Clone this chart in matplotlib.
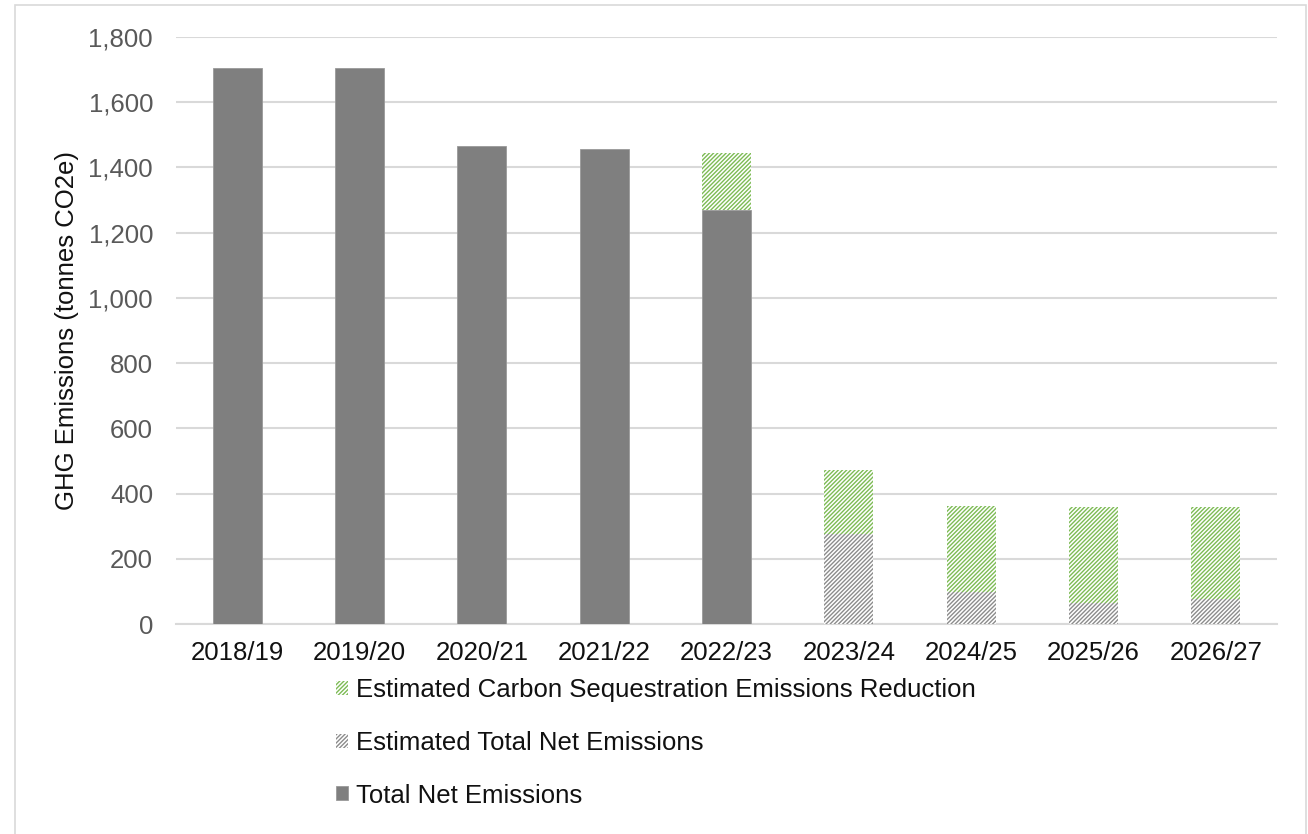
import matplotlib
matplotlib.use("Agg")
import matplotlib.pyplot as plt
from matplotlib.patches import Rectangle
import numpy as np

plt.rcParams['font.family'] = ['Liberation Sans', 'DejaVu Sans']
plt.rcParams['hatch.linewidth'] = 1.0

years = ["2018/19", "2019/20", "2020/21", "2021/22", "2022/23",
         "2023/24", "2024/25", "2025/26", "2026/27"]
total_net = [1705, 1705, 1465, 1457, 1270, 0, 0, 0, 0]
estimated_net = [0, 0, 0, 0, 0, 275, 98, 64, 77]
sequestration = [0, 0, 0, 0, 175, 197, 265, 295, 282]

yticks = [0, 200, 400, 600, 800, 1000, 1200, 1400, 1600, 1800]

GRAY = "#7f7f7f"
GREEN = "#7dbb55"
GRID = "#d9d9d9"
FS = 18.5

fig = plt.figure(figsize=(13.08, 8.34), dpi=100)
ax = fig.add_axes([176 / 1308, 1 - 624 / 834, (1277 - 176) / 1308, (624 - 37) / 834])

x = np.arange(len(years))
w = 0.40
base = np.array(total_net) + np.array(estimated_net)

b_total = ax.bar(x, total_net, w, color=GRAY, edgecolor="#9a9a9a", linewidth=0.6, zorder=3)
b_est = ax.bar(x, estimated_net, w, bottom=total_net, facecolor="white",
               edgecolor="#8c8c8c", hatch="////////", linewidth=0, zorder=3)
b_seq = ax.bar(x, sequestration, w, bottom=base, facecolor="white",
               edgecolor=GREEN, hatch="////////", linewidth=0, zorder=3)

ax.set_xlim(-0.5, len(years) - 0.5)
ax.set_ylim(0, 1800)
ax.set_yticks(yticks)
ax.set_yticklabels([f"{v:,}" for v in yticks])
ax.set_xticks(x)
ax.set_xticklabels(years)

ax.grid(axis="y", color=GRID, linewidth=1.5, zorder=0)
for s in ["top", "right", "left"]:
    ax.spines[s].set_visible(False)
ax.spines["bottom"].set_color(GRID)
ax.spines["bottom"].set_linewidth(1.5)
ax.tick_params(axis="both", length=0, labelsize=FS)
ax.tick_params(axis="y", pad=16.5, labelcolor="#595959")
ax.tick_params(axis="x", pad=12, labelcolor="#111111")

ax.set_ylabel("GHG Emissions (tonnes CO2e)", fontsize=FS, color="#111111")
ax.yaxis.set_label_coords(-0.088, 0.5)

leg = fig.legend([b_seq, b_est, b_total],
                 ["Estimated Carbon Sequestration Emissions Reduction",
                  "Estimated Total Net Emissions",
                  "Total Net Emissions"],
                 loc="upper left", bbox_to_anchor=(336 / 1308, 1 - 678.5 / 834),
                 frameon=False, fontsize=FS, handlelength=0.45, handleheight=0.45,
                 handletextpad=0.33, labelspacing=1.11, borderaxespad=0, borderpad=0)
for t in leg.get_texts():
    t.set_color("#111111")

fig.patches.append(Rectangle((15 / 1308, -0.01), (1306 - 15) / 1308, 1.01 - 5 / 834,
                             transform=fig.transFigure, fill=False,
                             edgecolor=GRID, linewidth=1.2))

fig.savefig("out.png", dpi=100, facecolor="white")
